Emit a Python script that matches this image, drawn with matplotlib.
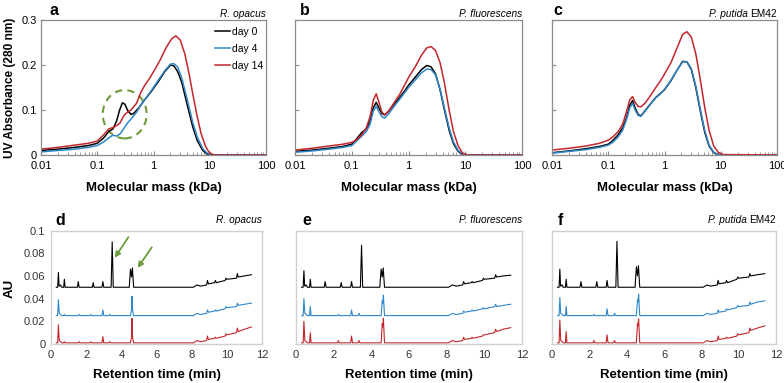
import matplotlib
matplotlib.use("Agg")
import matplotlib.pyplot as plt
from matplotlib.patches import Ellipse
from matplotlib.ticker import FixedLocator, LogLocator, NullFormatter
from matplotlib.transforms import offset_copy

plt.rcParams['font.family'] = ['Liberation Sans', 'DejaVu Sans']

# ---------------- SEC data (molecular mass in kDa, UV 280 nm) ----------------
mass_a_day0 = [0.01, 0.02, 0.04, 0.07, 0.1, 0.13, 0.16, 0.19, 0.22, 0.25, 0.28, 0.31, 0.35, 0.4, 0.45,
               0.55, 0.7, 0.9, 1.2, 1.6, 2.0, 2.3, 2.7, 3.2, 4.0, 5.0, 6.0, 7.5, 9.0, 11, 20, 100]
uv_a_day0 = [0.010, 0.013, 0.017, 0.021, 0.026, 0.038, 0.052, 0.058, 0.075, 0.100, 0.116, 0.113, 0.098,
             0.090, 0.093, 0.105, 0.123, 0.140, 0.162, 0.186, 0.200, 0.198, 0.185, 0.160, 0.110, 0.062,
             0.032, 0.010, 0.002, 0, 0, 0]
mass_a_day4 = [0.01, 0.02, 0.04, 0.07, 0.1, 0.13, 0.16, 0.19, 0.22, 0.26, 0.3, 0.35, 0.4, 0.5, 0.6, 0.75,
               0.9, 1.2, 1.6, 2.0, 2.3, 2.7, 3.2, 4.0, 5.0, 6.0, 7.5, 9.0, 11, 20, 100]
uv_a_day4 = [0.007, 0.010, 0.013, 0.017, 0.021, 0.029, 0.038, 0.044, 0.042, 0.048, 0.060, 0.072, 0.080,
             0.095, 0.112, 0.128, 0.142, 0.165, 0.188, 0.202, 0.203, 0.195, 0.170, 0.122, 0.072, 0.040,
             0.014, 0.004, 0, 0, 0]
mass_a_day14 = [0.01, 0.02, 0.04, 0.07, 0.1, 0.13, 0.16, 0.2, 0.25, 0.3, 0.35, 0.4, 0.5, 0.6, 0.7, 0.85,
                1.0, 1.3, 1.7, 2.1, 2.5, 3.0, 3.6, 4.3, 5.0, 6.0, 7.0, 8.5, 10, 12, 20, 100]
uv_a_day14 = [0.013, 0.017, 0.022, 0.026, 0.031, 0.045, 0.058, 0.062, 0.070, 0.088, 0.096, 0.100, 0.115,
              0.140, 0.155, 0.170, 0.185, 0.210, 0.240, 0.258, 0.265, 0.255, 0.225, 0.180, 0.135, 0.085,
              0.048, 0.018, 0.004, 0, 0, 0]

mass_bc = [0.01, 0.02, 0.04, 0.07, 0.1, 0.12, 0.15, 0.18, 0.21, 0.24, 0.27, 0.3, 0.34, 0.38, 0.45, 0.55,
           0.7, 0.85, 1.0, 1.3, 1.7, 2.1, 2.5, 3.0, 3.6, 4.3, 5.2, 6.2, 7.5, 9, 11, 100]
uv_b_day0 = [0.008, 0.011, 0.015, 0.019, 0.024, 0.035, 0.050, 0.058, 0.075, 0.105, 0.117, 0.105, 0.092,
             0.089, 0.098, 0.112, 0.128, 0.142, 0.155, 0.172, 0.190, 0.199, 0.196, 0.180, 0.145, 0.100,
             0.055, 0.025, 0.008, 0.001, 0, 0]
uv_b_day4 = [0.006, 0.009, 0.013, 0.017, 0.021, 0.030, 0.042, 0.052, 0.068, 0.098, 0.108, 0.097, 0.085,
             0.082, 0.092, 0.107, 0.124, 0.138, 0.150, 0.166, 0.183, 0.191, 0.190, 0.178, 0.146, 0.104,
             0.060, 0.029, 0.010, 0.002, 0, 0]
uv_b_day14 = [0.011, 0.015, 0.020, 0.024, 0.028, 0.033, 0.045, 0.060, 0.085, 0.122, 0.136, 0.118, 0.095,
              0.089, 0.098, 0.115, 0.135, 0.155, 0.172, 0.195, 0.222, 0.238, 0.241, 0.232, 0.205, 0.160,
              0.100, 0.052, 0.020, 0.004, 0, 0]
uv_c_day0 = [0.005, 0.009, 0.014, 0.019, 0.024, 0.032, 0.045, 0.060, 0.082, 0.110, 0.121, 0.105, 0.090,
             0.087, 0.098, 0.112, 0.128, 0.137, 0.145, 0.165, 0.190, 0.208, 0.207, 0.190, 0.150, 0.100,
             0.050, 0.020, 0.005, 0.001, 0, 0]
uv_c_day4 = [0.004, 0.008, 0.012, 0.017, 0.022, 0.028, 0.040, 0.055, 0.078, 0.104, 0.115, 0.100, 0.088,
             0.086, 0.097, 0.111, 0.127, 0.136, 0.146, 0.166, 0.190, 0.207, 0.207, 0.192, 0.153, 0.104,
             0.054, 0.022, 0.006, 0.001, 0, 0]
uv_c_day14 = [0.011, 0.015, 0.020, 0.026, 0.033, 0.040, 0.052, 0.068, 0.095, 0.122, 0.130, 0.117, 0.108,
              0.107, 0.115, 0.130, 0.150, 0.165, 0.180, 0.205, 0.240, 0.268, 0.274, 0.262, 0.225, 0.170,
              0.105, 0.055, 0.020, 0.006, 0.001, 0]

# ---------------- HPLC traces (retention time in min, AU) ----------------
t_black = [0.30, 0.38, 0.42, 0.46, 0.55, 0.60, 0.72, 0.76, 0.80, 1.00, 1.50, 1.55, 1.60, 2.00, 2.35, 2.40,
           2.45, 2.90, 2.95, 3.00, 3.42, 3.48, 3.54, 4.45, 4.52, 4.58, 4.63, 4.70, 4.78, 5.0, 6.0, 7.0,
           8.1, 8.3, 8.5, 8.85, 8.9, 8.95, 9.3, 9.35, 9.4, 9.9, 9.95, 10.0, 10.55, 10.6, 10.65, 11.0, 11.4]
au_d_black = [0.050, 0.050, 0.063, 0.051, 0.052, 0.050, 0.050, 0.057, 0.050, 0.050, 0.050, 0.055, 0.050,
              0.050, 0.050, 0.054, 0.050, 0.050, 0.055, 0.050, 0.050, 0.090, 0.050, 0.050, 0.066, 0.059,
              0.067, 0.050, 0.050, 0.050, 0.050, 0.050, 0.050, 0.052, 0.051, 0.052, 0.056, 0.053, 0.054,
              0.056, 0.054, 0.056, 0.058, 0.057, 0.058, 0.062, 0.059, 0.060, 0.061]
au_e_black = [0.050, 0.050, 0.0645, 0.051, 0.052, 0.050, 0.050, 0.057, 0.050, 0.050, 0.050, 0.055, 0.050,
              0.050, 0.050, 0.054, 0.050, 0.050, 0.055, 0.050, 0.050, 0.087, 0.050, 0.050, 0.066, 0.059,
              0.067, 0.050, 0.050, 0.050, 0.050, 0.050, 0.050, 0.052, 0.051, 0.052, 0.055, 0.053, 0.054,
              0.055, 0.054, 0.056, 0.058, 0.057, 0.058, 0.061, 0.059, 0.060, 0.0606]
au_f_black = [0.050, 0.050, 0.066, 0.051, 0.052, 0.050, 0.050, 0.057, 0.050, 0.050, 0.050, 0.055, 0.050,
              0.050, 0.050, 0.055, 0.050, 0.050, 0.056, 0.050, 0.050, 0.0905, 0.050, 0.050, 0.068, 0.060,
              0.069, 0.050, 0.050, 0.050, 0.050, 0.050, 0.050, 0.052, 0.051, 0.052, 0.056, 0.053, 0.054,
              0.056, 0.054, 0.057, 0.059, 0.058, 0.059, 0.062, 0.060, 0.061, 0.062]

t_color = [0.30, 0.38, 0.42, 0.47, 0.55, 0.60, 0.72, 0.76, 0.80, 1.0, 1.55, 1.6, 1.65, 2.2, 2.25, 2.3, 2.9,
           2.95, 3.0, 3.3, 3.35, 3.4, 4.52, 4.58, 4.61, 4.64, 4.70, 5.0, 6.0, 7.0, 8.1, 8.3, 8.5, 8.85, 8.9,
           8.95, 9.3, 9.35, 9.4, 9.9, 9.95, 10.0, 10.55, 10.6, 10.65, 11.0, 11.4]
au_d_blue = [0.025, 0.025, 0.039, 0.027, 0.026, 0.025, 0.025, 0.026, 0.025, 0.025, 0.025, 0.026, 0.025,
             0.025, 0.026, 0.025, 0.025, 0.030, 0.025, 0.025, 0.026, 0.025, 0.025, 0.030, 0.042, 0.030,
             0.025, 0.025, 0.025, 0.025, 0.025, 0.027, 0.026, 0.027, 0.030, 0.028, 0.029, 0.030, 0.029,
             0.031, 0.033, 0.032, 0.033, 0.036, 0.034, 0.035, 0.036]
au_d_red = [0.001, 0.001, 0.017, 0.003, 0.002, 0.001, 0.001, 0.002, 0.001, 0.001, 0.001, 0.002, 0.001,
            0.001, 0.002, 0.001, 0.001, 0.0065, 0.001, 0.001, 0.002, 0.001, 0.001, 0.006, 0.0225, 0.006,
            0.001, 0.001, 0.001, 0.001, 0.001, 0.003, 0.002, 0.003, 0.007, 0.004, 0.005, 0.006, 0.005,
            0.007, 0.009, 0.008, 0.010, 0.014, 0.011, 0.013, 0.015]
au_e_blue = [0.025, 0.025, 0.040, 0.027, 0.026, 0.025, 0.025, 0.033, 0.025, 0.025, 0.025, 0.025, 0.025,
             0.025, 0.026, 0.025, 0.025, 0.030, 0.025, 0.025, 0.027, 0.025, 0.025, 0.038, 0.036, 0.043,
             0.025, 0.025, 0.025, 0.025, 0.025, 0.027, 0.026, 0.027, 0.029, 0.028, 0.029, 0.030, 0.029,
             0.031, 0.032, 0.031, 0.033, 0.035, 0.033, 0.034, 0.035]
au_e_red = [0.001, 0.001, 0.020, 0.003, 0.002, 0.001, 0.001, 0.010, 0.001, 0.001, 0.001, 0.001, 0.001,
            0.001, 0.003, 0.001, 0.001, 0.007, 0.001, 0.001, 0.003, 0.001, 0.001, 0.018, 0.015, 0.0226,
            0.001, 0.001, 0.001, 0.001, 0.001, 0.003, 0.002, 0.003, 0.006, 0.004, 0.005, 0.006, 0.005,
            0.007, 0.008, 0.008, 0.010, 0.013, 0.011, 0.013, 0.0144]
au_f_blue = [0.025, 0.025, 0.041, 0.027, 0.026, 0.025, 0.025, 0.033, 0.025, 0.025, 0.025, 0.025, 0.025,
             0.025, 0.026, 0.025, 0.025, 0.031, 0.025, 0.025, 0.027, 0.025, 0.025, 0.039, 0.037, 0.044,
             0.025, 0.025, 0.025, 0.025, 0.025, 0.027, 0.026, 0.027, 0.030, 0.028, 0.029, 0.031, 0.030,
             0.032, 0.034, 0.033, 0.034, 0.037, 0.035, 0.037, 0.038]
au_f_red = [0.001, 0.001, 0.021, 0.003, 0.002, 0.001, 0.001, 0.011, 0.001, 0.001, 0.001, 0.001, 0.001,
            0.001, 0.003, 0.001, 0.001, 0.008, 0.001, 0.001, 0.003, 0.001, 0.001, 0.018, 0.016, 0.022,
            0.001, 0.001, 0.001, 0.001, 0.001, 0.003, 0.002, 0.003, 0.007, 0.004, 0.005, 0.006, 0.005,
            0.007, 0.009, 0.008, 0.010, 0.014, 0.012, 0.014, 0.016]

labels_days = ['day 0', 'day 4', 'day 14']
species_italic = ['R. opacus', 'P. fluorescens', 'P. putida']
species_suffix = ['', '', 'EM42']
mass_ticks = [0.01, 0.1, 1, 10, 100]
mass_ticklabels = ['0.01', '0.1', '1', '10', '100']
uv_ticks = [0, 0.1, 0.2, 0.3]
uv_ticklabels = ['0', '0.1', '0.2', '0.3']
rt_ticks = [0, 2, 4, 6, 8, 10, 12]
au_ticks = [0, 0.02, 0.04, 0.06, 0.08, 0.1]
au_ticklabels = ['0', '0.02', '0.04', '0.06', '0.08', '0.1']

BLACK = '#000000'
BLUE = '#2f86c8'
RED = '#c3262c'
GREEN = '#6f9b3f'

W, H = 784, 383
fig = plt.figure(figsize=(W / 100, H / 100), dpi=100)


def px_axes(x0, x1, ytop, ybot):
    return fig.add_axes([x0 / W, 1 - ybot / H, (x1 - x0) / W, (ybot - ytop) / H])


def species_label(ax, y, i):
    # italic genus/species name, optional upright strain name, right aligned
    if species_suffix[i]:
        t = ax.text(1.0, y, species_suffix[i], transform=ax.transAxes, fontsize=7.3,
                    ha='right', va='baseline')
        fig.canvas.draw()
        w = t.get_window_extent().width + 2.2
        tr = offset_copy(ax.transAxes, fig=fig, x=-w * 72 / fig.dpi, y=0, units='points')
        ax.text(1.0, y, species_italic[i], transform=tr, fontsize=7.3, style='italic',
                ha='right', va='baseline')
    else:
        ax.text(1.0, y, species_italic[i], transform=ax.transAxes, fontsize=7.3, style='italic',
                ha='right', va='baseline')


top_boxes = [(41, 266), (295, 522), (552, 777)]
bot_boxes = [(51, 262), (296, 522), (552, 776)]
top_letters = ['a', 'b', 'c']
bot_letters = ['d', 'e', 'f']
top_letter_x = [0.04, 0.02, 0.005]
bot_letter_x = [0.02, 0.027, 0.027]

sec_sets = [
    [(mass_a_day0, uv_a_day0), (mass_a_day4, uv_a_day4), (mass_a_day14, uv_a_day14)],
    [(mass_bc, uv_b_day0), (mass_bc, uv_b_day4), (mass_bc, uv_b_day14)],
    [(mass_bc, uv_c_day0), (mass_bc, uv_c_day4), (mass_bc, uv_c_day14)],
]
hplc_sets = [
    [(t_black, au_d_black), (t_color, au_d_blue), (t_color, au_d_red)],
    [(t_black, au_e_black), (t_color, au_e_blue), (t_color, au_e_red)],
    [(t_black, au_f_black), (t_color, au_f_blue), (t_color, au_f_red)],
]
colors = [BLACK, BLUE, RED]

top_axes = []
for i, (x0, x1) in enumerate(top_boxes):
    ax = px_axes(x0, x1, 20, 155)
    for (xs, ys), c, lab in zip(sec_sets[i], colors, labels_days):
        ax.plot(xs, ys, color=c, lw=1.1, label=lab)
    ax.set_xscale('log')
    ax.set_xlim(0.01, 100)
    ax.set_ylim(0, 0.3)
    ax.xaxis.set_major_locator(FixedLocator(mass_ticks))
    ax.set_xticklabels(mass_ticklabels)
    ax.xaxis.set_minor_locator(LogLocator(base=10, subs=range(2, 10)))
    ax.xaxis.set_minor_formatter(NullFormatter())
    ax.set_yticks(uv_ticks)
    if i == 0:
        ax.set_yticklabels(uv_ticklabels)
    else:
        ax.set_yticklabels([])
    for s in ax.spines.values():
        s.set_color('#8c8c8c')
        s.set_linewidth(0.9)
    ax.tick_params(which='both', direction='in', color='#8c8c8c', labelsize=8)
    ax.tick_params(axis='x', pad=4)
    ax.tick_params(axis='y', pad=3)
    ax.tick_params(which='major', length=3)
    ax.tick_params(which='minor', length=2)
    ax.set_xlabel('Molecular mass (kDa)', fontsize=9.5, fontweight='bold', labelpad=8)
    ax.text(top_letter_x[i], 1.037, top_letters[i], transform=ax.transAxes, fontsize=11.5,
            fontweight='bold', ha='left', va='baseline')
    species_label(ax, 1.022, i)
    top_axes.append(ax)

top_axes[0].legend(loc='upper left', bbox_to_anchor=(0.756, 0.981), frameon=False, fontsize=7.5,
                   handlelength=1.45, handletextpad=0.15, labelspacing=0.68, borderaxespad=0,
                   borderpad=0.4)
top_axes[0].add_patch(Ellipse((0.372, 0.302), 0.195, 0.358, transform=top_axes[0].transAxes,
                              fill=False, edgecolor=GREEN, lw=1.5, ls=(0, (3.5, 2.5))))

bot_axes = []
for i, (x0, x1) in enumerate(bot_boxes):
    ax = px_axes(x0, x1, 230.5, 344)
    for (xs, ys), c in zip(hplc_sets[i], colors):
        ax.plot(xs, ys, color=c, lw=0.8)
    ax.set_xlim(0, 12)
    ax.set_ylim(0, 0.1)
    ax.set_xticks(rt_ticks)
    ax.set_yticks(au_ticks)
    if i == 0:
        ax.set_yticklabels(au_ticklabels)
    else:
        ax.set_yticklabels([])
        ax.tick_params(axis='y', left=False)
    for s in ax.spines.values():
        s.set_color('#d0d0d0')
        s.set_linewidth(1.0)
    ax.tick_params(length=0, labelsize=8, labelcolor='#333333', pad=4)
    ax.set_xlabel('Retention time (min)', fontsize=9.5, fontweight='bold', labelpad=7)
    ax.text(bot_letter_x[i], 1.048, bot_letters[i], transform=ax.transAxes, fontsize=11.5,
            fontweight='bold', ha='left', va='baseline')
    species_label(ax, 1.066, i)
    bot_axes.append(ax)

# arrows marking the two peaks in panel d
bot_axes[0].annotate('', xy=(3.54, 0.074), xytext=(4.49, 0.0962),
                     arrowprops=dict(arrowstyle='-|>', color=GREEN, lw=1.3, mutation_scale=8))
bot_axes[0].annotate('', xy=(4.84, 0.065), xytext=(5.82, 0.0872),
                     arrowprops=dict(arrowstyle='-|>', color=GREEN, lw=1.3, mutation_scale=8))

fig.text(10 / W, 1 - 88 / H, 'UV Absorbance (280 nm)', rotation=90, fontsize=8.6, fontweight='bold',
         ha='center', va='center')
fig.text(10 / W, 1 - 288 / H, 'AU', rotation=90, fontsize=9.5, fontweight='bold',
         ha='center', va='center')

fig.savefig('out.png', dpi=100)
